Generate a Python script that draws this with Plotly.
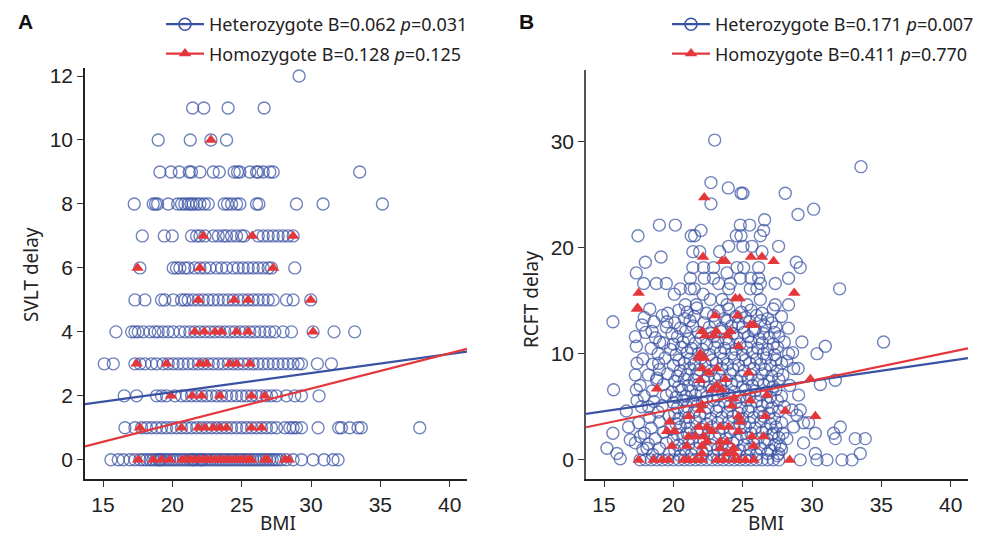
import plotly.graph_objects as go

# ---------------- Panel A data (SVLT delay, integer scores) ----------------
het_a_rows = {
    12: [29.14],
    11: [21.46, 22.27, 24.02, 26.62],
    10: [18.98, 21.29, 22.78, 23.91],
    9: [19.10, 19.90, 20.50, 21.22, 21.38, 21.99, 22.95, 23.38, 24.46, 24.70, 24.87,
        25.59, 26.07, 26.19, 26.55, 27.03, 27.27, 33.51],
    8: [17.25, 18.62, 18.79, 18.94, 19.70, 20.38, 20.66, 20.90, 21.14, 21.34, 21.50,
        21.75, 21.99, 22.30, 22.59, 23.74, 23.98, 24.27, 24.63, 24.87, 26.07, 26.24,
        28.95, 30.87, 35.15],
    7: [17.83, 19.42, 19.99, 21.38, 21.75, 21.99, 22.35, 22.95, 23.31, 23.67, 23.91,
        24.27, 24.63, 24.99, 25.18, 26.19, 26.55, 26.91, 27.27, 27.63, 27.99, 28.35, 28.71],
    6: [17.66, 20.06, 20.30, 20.54, 20.90, 21.14, 21.62, 21.99, 22.35, 22.71, 23.19,
        23.55, 23.91, 24.39, 24.75, 25.11, 25.47, 25.83, 26.19, 26.55, 26.91, 27.15, 28.83],
    5: [17.30, 18.02, 19.22, 19.46, 20.06, 20.66, 20.90, 21.14, 21.50, 21.87, 22.23,
        22.59, 22.95, 23.31, 23.67, 24.03, 24.39, 24.75, 25.11, 25.47, 25.83, 26.19,
        26.55, 26.91, 27.27, 28.23, 28.71, 29.98],
    4: [15.93, 17.06, 17.30, 17.54, 17.90, 18.38, 18.74, 18.98, 19.34, 19.70, 20.06,
        20.54, 20.90, 21.26, 21.62, 21.99, 22.35, 22.71, 23.07, 23.43, 23.79, 24.15,
        24.51, 24.87, 25.23, 25.59, 25.95, 26.31, 26.67, 27.03, 27.39, 27.99, 28.59,
        30.15, 31.66, 33.15],
    3: [15.09, 15.74, 17.30, 17.66, 18.02, 18.50, 18.86, 19.34, 19.70, 20.06, 20.42,
        20.78, 21.14, 21.50, 21.87, 22.23, 22.59, 22.95, 23.31, 23.67, 24.03, 24.39,
        24.75, 25.11, 25.47, 25.83, 26.19, 26.55, 26.91, 27.27, 27.63, 27.99, 28.35,
        28.71, 29.07, 29.31, 30.46, 31.47],
    2: [16.53, 17.42, 18.86, 19.22, 19.58, 20.18, 20.66, 21.02, 21.38, 21.75, 22.11,
        22.47, 22.83, 23.19, 23.55, 23.91, 24.27, 24.63, 24.99, 25.35, 25.71, 26.07,
        26.43, 26.79, 27.15, 27.51, 28.23, 28.83, 29.31, 30.58],
    1: [16.58, 17.30, 17.78, 18.14, 18.50, 18.86, 19.22, 19.58, 19.94, 20.30, 20.66,
        21.02, 21.38, 21.75, 22.11, 22.47, 22.83, 23.19, 23.55, 23.91, 24.27, 24.63,
        24.99, 25.35, 25.71, 26.07, 26.43, 26.79, 27.15, 27.51, 28.11, 28.47, 28.71,
        28.95, 29.31, 30.51, 32.00, 32.19, 32.79, 33.39, 33.63, 37.84],
    0: [15.57, 16.10, 16.46, 16.94, 17.30, 17.66, 17.90, 18.14, 18.40, 18.60, 18.80,
        19.00, 19.10, 19.20, 19.40, 19.60, 19.80, 20.00, 20.20, 20.40, 20.60, 20.80,
        21.00, 21.20, 21.40, 21.50, 21.60, 21.80, 22.00, 22.10, 22.20, 22.40, 22.60,
        22.80, 23.00, 23.20, 23.40, 23.60, 23.80, 24.00, 24.20, 24.40, 24.60, 24.80,
        25.00, 25.20, 25.40, 25.60, 25.80, 26.00, 26.20, 26.40, 26.60, 26.80, 27.00,
        27.20, 27.40, 27.60, 27.87, 28.23, 28.71, 29.31, 30.15, 30.94, 31.59, 31.95],
}

hom_a_rows = {
    10: [22.78],
    7: [22.23, 25.76, 28.71],
    6: [17.49, 21.99, 27.27],
    5: [21.87, 24.46, 25.47, 29.98],
    4: [21.62, 22.30, 23.07, 23.55, 24.63, 25.47, 30.15],
    3: [17.42, 19.58, 21.99, 22.47, 24.15, 24.63, 25.59],
    2: [19.90, 21.43, 22.11, 23.43, 25.71, 26.67],
    1: [17.66, 20.66, 21.87, 22.35, 22.95, 23.43, 23.91, 25.71, 26.43],
    0: [17.54, 18.62, 19.22, 19.82, 20.70, 21.00, 21.30, 21.60, 21.90, 22.20, 22.50,
        22.80, 23.10, 23.40, 23.70, 24.00, 24.30, 24.60, 24.90, 25.20, 25.50, 25.70,
        26.67, 26.86, 28.11, 28.40],
}

# ---------------- Panel B data (RCFT delay) ----------------
het_b_points = [
    (22.98, 30.1), (33.53, 27.6), (22.71, 26.1), (23.96, 25.6), (24.88, 25.1), (25.02, 25.1),
    (28.07, 25.1), (22.71, 24.1), (28.99, 23.1), (30.12, 23.6), (17.45, 21.1), (18.99, 22.1),
    (20.14, 22.1), (21.29, 21.1), (21.53, 21.1), (21.99, 21.6), (24.83, 22.1), (25.50, 22.1),
    (26.58, 22.6), (26.51, 21.6), (24.54, 21.1), (24.88, 21.1), (26.27, 21.1),
    (17.98, 18.6), (19.11, 19.1), (17.33, 17.6), (17.86, 16.6), (18.77, 16.6), (19.49, 16.6),
    (21.41, 19.6), (21.90, 19.6), (23.34, 19.6), (23.99, 20.1), (25.02, 20.1), (25.67, 20.1),
    (26.39, 19.6), (27.59, 20.1), (28.87, 18.6), (29.15, 18.1), (28.31, 17.1), (31.99, 16.1),
    (21.41, 18.1), (22.18, 18.1), (22.90, 18.1), (22.23, 17.1), (22.90, 17.1), (23.87, 17.6),
    (24.59, 18.1), (25.07, 18.1), (26.15, 18.1), (25.60, 17.1), (26.15, 17.1), (26.27, 16.6),
    (24.83, 17.1), (24.11, 16.6), (23.27, 16.6), (21.22, 17.1), (20.50, 16.1), (20.07, 15.6),
    (21.22, 16.1), (21.51, 16.1), (22.14, 15.6), (22.66, 15.1), (23.51, 15.1), (23.99, 16.1),
    (25.55, 16.1), (26.03, 16.1), (26.27, 15.1), (27.35, 16.6), (27.35, 14.6), (28.31, 14.6),
    (20.86, 14.6), (21.65, 14.6), (23.87, 14.6), (25.31, 14.6),
    (15.64, 13.0), (15.69, 6.6), (15.21, 1.1), (15.93, 0.6), (16.17, 0.1), (15.64, 2.5),
    (16.77, 3.1), (16.61, 4.6), (17.33, 6.6), (17.38, 5.6), (17.38, 9.1), (17.26, 8.0),
    (17.33, 10.7), (17.26, 11.6), (17.74, 12.7), (18.46, 12.1), (19.01, 11.1), (19.54, 13.0),
    (18.94, 9.1), (18.82, 7.7), (18.22, 5.0), (17.62, 2.2), (17.26, 1.6), (18.10, 1.1),
    (16.89, 1.9), (29.27, 11.1), (30.36, 10.0), (30.96, 10.7), (35.16, 11.1), (33.12, 2.0),
    (33.84, 2.0), (33.48, 0.6), (31.56, 2.5), (32.04, 3.1), (31.68, 2.0), (30.60, 7.1),
    (31.68, 7.5), (28.31, 10.0), (28.19, 9.3), (28.67, 8.6), (29.03, 6.1), (28.55, 4.7),
    (29.15, 4.7), (28.91, 4.2), (28.67, 3.1), (28.19, 2.0), (29.39, 1.6), (30.24, 2.5),
    (30.24, 0.6), (30.36, 0.0), (31.08, 0.0), (32.16, 0.0), (32.88, 0.0), (29.15, 0.0),
    (29.39, 3.5), (29.75, 3.5), (27.71, 1.3), (27.59, 0.6), (27.23, 2.5),
    (18.3, 14.2), (19.6, 13.8), (20.4, 14.1), (21.0, 13.9), (21.7, 14.3), (22.4, 13.8),
    (23.3, 14.0), (24.0, 14.2), (24.9, 13.9), (25.6, 14.1), (26.4, 13.8), (27.2, 14.2),
    (17.9, 13.4), (19.2, 13.6), (20.8, 13.3), (21.5, 13.5), (22.9, 13.6), (23.7, 13.3),
    (24.5, 13.5), (25.2, 13.4), (26.0, 13.6), (26.8, 13.3), (27.8, 13.5),
    (18.6, 13.0), (20.1, 12.9), (21.2, 13.1), (22.2, 12.9), (23.0, 13.0), (23.9, 13.1),
    (24.7, 12.8), (25.5, 13.0), (26.3, 13.1), (27.1, 12.9),
    (19.5, 12.5), (20.5, 12.4), (21.4, 12.6), (22.6, 12.5), (23.5, 12.4), (24.2, 12.6),
    (25.0, 12.5), (25.9, 12.3), (26.6, 12.6), (27.4, 12.5), (28.3, 12.4),
    (18.0, 12.0), (19.9, 11.9), (20.9, 12.1), (21.8, 12.0), (22.7, 11.9), (23.4, 12.1),
    (24.3, 11.9), (25.1, 12.0), (25.8, 12.1), (26.5, 11.9), (27.3, 12.0),
    (18.7, 11.5), (20.3, 11.6), (21.1, 11.4), (22.0, 11.5), (22.9, 11.6), (23.8, 11.4),
    (24.6, 11.5), (25.4, 11.6), (26.2, 11.4), (26.9, 11.5), (27.6, 11.6),
    (19.3, 11.0), (20.0, 10.9), (20.7, 11.1), (21.6, 11.0), (22.4, 10.9), (23.2, 11.1),
    (24.0, 11.0), (24.8, 10.9), (25.6, 11.1), (26.4, 11.0), (27.2, 10.9), (28.0, 11.1),
    (18.4, 10.5), (19.8, 10.4), (20.6, 10.6), (21.3, 10.5), (22.1, 10.4), (23.0, 10.6),
    (23.7, 10.5), (24.5, 10.4), (25.3, 10.6), (26.1, 10.5), (26.8, 10.4), (27.5, 10.6),
    (18.9, 10.0), (20.2, 9.9), (21.0, 10.1), (21.8, 10.0), (22.6, 9.9), (23.4, 10.1),
    (24.2, 10.0), (25.0, 9.9), (25.7, 10.1), (26.5, 10.0), (27.3, 9.9), (28.6, 10.1),
    (17.8, 9.5), (19.4, 9.6), (20.4, 9.4), (21.2, 9.5), (22.0, 9.6), (22.8, 9.4),
    (23.6, 9.5), (24.4, 9.6), (25.2, 9.4), (26.0, 9.5), (26.7, 9.6), (27.4, 9.4),
    (18.5, 9.0), (20.0, 8.9), (20.8, 9.1), (21.5, 9.0), (22.3, 8.9), (23.1, 9.1),
    (23.9, 9.0), (24.7, 8.9), (25.5, 9.1), (26.3, 9.0), (27.0, 8.9), (27.8, 9.1),
    (19.0, 8.5), (20.5, 8.4), (21.2, 8.6), (21.9, 8.5), (22.7, 8.4), (23.5, 8.6),
    (24.3, 8.5), (25.1, 8.4), (25.8, 8.6), (26.6, 8.5), (27.5, 8.4), (29.0, 8.6),
    (18.2, 8.0), (19.6, 8.1), (20.3, 7.9), (21.0, 8.0), (21.7, 8.1), (22.5, 7.9),
    (23.3, 8.0), (24.1, 8.1), (24.9, 7.9), (25.6, 8.0), (26.4, 8.1), (27.1, 7.9), (27.9, 8.0),
    (18.8, 7.5), (20.1, 7.4), (20.8, 7.6), (21.5, 7.5), (22.2, 7.4), (23.0, 7.6),
    (23.8, 7.5), (24.6, 7.4), (25.4, 7.6), (26.1, 7.5), (26.9, 7.4), (27.6, 7.6),
    (17.6, 7.0), (19.3, 7.1), (20.4, 6.9), (21.1, 7.0), (21.8, 7.1), (22.6, 6.9),
    (23.4, 7.0), (24.2, 7.1), (25.0, 6.9), (25.7, 7.0), (26.5, 7.1), (27.2, 6.9), (28.4, 7.0),
    (18.5, 6.5), (19.9, 6.4), (20.6, 6.6), (21.3, 6.5), (22.0, 6.4), (22.8, 6.6),
    (23.6, 6.5), (24.4, 6.4), (25.2, 6.6), (25.9, 6.5), (26.7, 6.4), (27.4, 6.6),
    (17.9, 6.0), (19.5, 6.1), (20.2, 5.9), (20.9, 6.0), (21.6, 6.1), (22.4, 5.9),
    (23.2, 6.0), (24.0, 6.1), (24.8, 5.9), (25.5, 6.0), (26.3, 6.1), (27.0, 5.9), (27.8, 6.0),
    (18.6, 5.5), (20.0, 5.4), (20.7, 5.6), (21.4, 5.5), (22.1, 5.4), (22.9, 5.6),
    (23.7, 5.5), (24.5, 5.4), (25.3, 5.6), (26.0, 5.5), (26.8, 5.4), (27.5, 5.6),
    (17.7, 5.0), (19.2, 5.1), (20.3, 4.9), (21.0, 5.0), (21.7, 5.1), (22.5, 4.9),
    (23.3, 5.0), (24.1, 5.1), (24.9, 4.9), (25.6, 5.0), (26.4, 5.1), (27.1, 4.9), (28.0, 5.0),
    (18.9, 4.5), (20.1, 4.4), (20.8, 4.6), (21.5, 4.5), (22.3, 4.4), (23.1, 4.6),
    (23.9, 4.5), (24.7, 4.4), (25.4, 4.6), (26.2, 4.5), (26.9, 4.4), (27.6, 4.6),
    (18.3, 4.0), (19.7, 4.1), (20.4, 3.9), (21.1, 4.0), (21.9, 4.1), (22.7, 3.9),
    (23.5, 4.0), (24.3, 4.1), (25.0, 3.9), (25.8, 4.0), (26.5, 4.1), (27.3, 3.9),
    (17.5, 3.5), (19.0, 3.6), (20.2, 3.4), (20.9, 3.5), (21.6, 3.6), (22.4, 3.4),
    (23.2, 3.5), (24.0, 3.6), (24.8, 3.4), (25.5, 3.5), (26.3, 3.6), (27.0, 3.4), (27.8, 3.5),
    (18.4, 3.0), (19.8, 2.9), (20.5, 3.1), (21.2, 3.0), (22.0, 2.9), (22.8, 3.1),
    (23.6, 3.0), (24.4, 2.9), (25.2, 3.1), (25.9, 3.0), (26.7, 2.9), (27.4, 3.1),
    (17.9, 2.5), (19.3, 2.6), (20.3, 2.4), (21.0, 2.5), (21.7, 2.6), (22.5, 2.4),
    (23.3, 2.5), (24.1, 2.6), (24.9, 2.4), (25.6, 2.5), (26.4, 2.6), (27.1, 2.4), (27.9, 2.5),
    (18.7, 2.0), (20.0, 1.9), (20.7, 2.1), (21.4, 2.0), (22.2, 1.9), (23.0, 2.1),
    (23.8, 2.0), (24.6, 1.9), (25.3, 2.1), (26.1, 2.0), (26.8, 1.9), (27.6, 2.1),
    (18.2, 1.5), (19.5, 1.6), (20.4, 1.4), (21.1, 1.5), (21.9, 1.6), (22.7, 1.4),
    (23.5, 1.5), (24.3, 1.6), (25.1, 1.4), (25.8, 1.5), (26.6, 1.6), (27.3, 1.4),
    (17.8, 1.0), (19.0, 1.1), (20.1, 0.9), (20.8, 1.0), (21.6, 1.1), (22.4, 0.9),
    (23.2, 1.0), (24.0, 1.1), (24.8, 0.9), (25.5, 1.0), (26.3, 1.1), (27.0, 0.9), (27.8, 1.0),
    (18.5, 0.5), (19.7, 0.6), (20.5, 0.4), (21.3, 0.5), (22.1, 0.6), (22.9, 0.4),
    (23.7, 0.5), (24.5, 0.6), (25.3, 0.4), (26.0, 0.5), (26.8, 0.6), (27.5, 0.4),
    (17.6, 0.0), (18.0, 0.0), (18.4, 0.0), (18.8, 0.0), (19.2, 0.0), (19.6, 0.0),
    (20.0, 0.0), (20.4, 0.0), (20.8, 0.0), (21.2, 0.0), (21.6, 0.0), (22.0, 0.0),
    (22.4, 0.0), (22.8, 0.0), (23.2, 0.0), (23.6, 0.0), (24.0, 0.0), (24.4, 0.0),
    (24.8, 0.0), (25.2, 0.0), (25.6, 0.0), (26.0, 0.0), (26.4, 0.0), (26.8, 0.0),
    (27.2, 0.0), (27.6, 0.0),
]

hom_b_points = [
    (22.23, 24.7), (22.14, 19.1), (23.51, 18.7), (23.75, 18.7), (25.60, 19.1), (26.39, 19.1),
    (27.23, 18.7), (17.50, 15.7), (28.72, 15.7), (24.47, 15.2), (24.78, 15.2), (17.42, 14.3),
    (17.38, 14.2), (23.02, 13.6), (24.64, 13.6), (25.55, 12.7), (25.79, 12.7), (22.06, 12.1),
    (23.10, 12.1), (24.11, 12.1), (22.30, 11.7), (22.90, 11.7), (23.87, 11.7), (24.71, 10.7),
    (21.94, 10.0), (21.82, 9.6), (22.23, 9.6), (22.06, 8.6), (23.14, 8.6), (25.43, 8.2),
    (22.54, 8.2), (21.94, 7.5), (23.75, 7.6), (29.88, 7.6), (18.82, 6.7), (23.14, 7.0),
    (22.78, 6.6), (23.50, 6.6), (26.75, 6.1), (24.35, 5.8), (25.55, 5.6), (22.06, 5.2),
    (21.94, 4.7), (24.23, 5.1), (28.07, 4.6), (30.24, 4.1), (24.71, 4.1), (24.83, 3.6),
    (26.63, 4.1), (21.10, 4.1), (19.73, 3.6), (21.82, 3.1), (22.42, 3.1), (23.38, 3.1),
    (23.99, 3.1), (19.54, 2.7), (20.07, 2.7), (22.78, 2.7), (24.71, 2.7), (21.10, 2.2),
    (21.58, 2.2), (22.18, 2.2), (23.38, 1.7), (23.87, 1.7), (25.67, 2.2), (26.51, 2.2),
    (22.42, 1.7), (19.90, 1.3), (20.98, 1.3), (22.06, 1.3), (23.38, 1.1), (24.35, 1.1),
    (25.79, 1.3), (22.06, 0.6), (23.87, 0.6), (24.35, 0.6),
    (17.50, 0.0), (18.58, 0.0), (19.18, 0.0), (19.66, 0.0), (20.74, 0.0), (21.10, 0.0),
    (21.58, 0.0), (22.06, 0.0), (23.14, 0.0), (23.63, 0.0), (24.35, 0.0), (24.71, 0.0),
    (25.19, 0.0), (25.79, 0.0), (28.39, 0.0),
]

# regression line end points (BMI, predicted score)
line_bmi = [13.7, 41.25]
het_a_fit = [1.74, 3.38]
hom_a_fit = [0.42, 3.47]
het_b_fit = [4.33, 9.57]
hom_b_fit = [3.07, 10.50]

legend_a = ["Heterozygote B=0.062 <i>p</i>=0.031", "Homozygote B=0.128 <i>p</i>=0.125"]
legend_b = ["Heterozygote B=0.171 <i>p</i>=0.007", "Homozygote B=0.411 <i>p</i>=0.770"]
x_title = "BMI"
y_title_a = "SVLT delay"
y_title_b = "RCFT delay"

BLUE = "#3a52a3"
BLUE_M = "rgba(58,82,163,0.72)"
RED = "#e3373c"

W, H = 982, 540
ML, MR, MT, MB = 85, 14, 68, 61
PW, PH = W - ML - MR, H - MT - MB


def px_x(px):
    return (px - ML) / PW


def px_y(py):
    return (H - MB - py) / PH


def rows_to_xy(rows):
    xs, ys = [], []
    for score, bmis in rows.items():
        for b in bmis:
            xs.append(b)
            ys.append(score)
    return xs, ys


fig = go.Figure()

circle = dict(symbol="circle-open", size=12, color=BLUE_M, line=dict(width=1.4, color=BLUE_M))
tri = dict(symbol="triangle-up", size=11, color=RED, line=dict(width=0))

# Panel A
hx, hy = rows_to_xy(het_a_rows)
fig.add_trace(go.Scatter(x=hx, y=hy, mode="markers", marker=circle, showlegend=False,
                         xaxis="x", yaxis="y"))
mx, my = rows_to_xy(hom_a_rows)
fig.add_trace(go.Scatter(x=mx, y=my, mode="markers", marker=tri, showlegend=False,
                         xaxis="x", yaxis="y"))
fig.add_trace(go.Scatter(x=line_bmi, y=het_a_fit, mode="lines", line=dict(color=BLUE, width=2.2),
                         showlegend=False, xaxis="x", yaxis="y"))
fig.add_trace(go.Scatter(x=line_bmi, y=hom_a_fit, mode="lines", line=dict(color=RED, width=2.2),
                         showlegend=False, xaxis="x", yaxis="y"))

# Panel B
fig.add_trace(go.Scatter(x=[p[0] for p in het_b_points], y=[p[1] for p in het_b_points],
                         mode="markers", marker=circle, showlegend=False, xaxis="x2", yaxis="y2"))
fig.add_trace(go.Scatter(x=[p[0] for p in hom_b_points], y=[p[1] for p in hom_b_points],
                         mode="markers", marker=tri, showlegend=False, xaxis="x2", yaxis="y2"))
fig.add_trace(go.Scatter(x=line_bmi, y=het_b_fit, mode="lines", line=dict(color=BLUE, width=2.2),
                         showlegend=False, xaxis="x2", yaxis="y2"))
fig.add_trace(go.Scatter(x=line_bmi, y=hom_b_fit, mode="lines", line=dict(color=RED, width=2.2),
                         showlegend=False, xaxis="x2", yaxis="y2"))

# legend entries
leg_circle = dict(symbol="circle-open", size=12, color=BLUE, line=dict(width=1.5, color=BLUE))
leg_tri = dict(symbol="triangle-up", size=11, color=RED)
for lg, names in (("legend", legend_a), ("legend2", legend_b)):
    ax = "x" if lg == "legend" else "x2"
    ay = "y" if lg == "legend" else "y2"
    fig.add_trace(go.Scatter(x=[None], y=[None], mode="lines+markers", name=names[0],
                             line=dict(color=BLUE, width=2.2), marker=leg_circle,
                             legend=lg, legendgroup=lg + "a", xaxis=ax, yaxis=ay))
    fig.add_trace(go.Scatter(x=[None], y=[None], mode="lines+markers", name=names[1],
                             line=dict(color=RED, width=2.2), marker=leg_tri,
                             legend=lg, legendgroup=lg + "b", xaxis=ax, yaxis=ay))

TICKF = dict(family="Liberation Sans, Arial, sans-serif", size=21, color="#222")
TITLEF = dict(family="Noto Sans, sans-serif", size=19, color="#222")
LEGF = dict(family="Noto Sans, sans-serif", size=18, color="#222")
LETF = dict(family="Liberation Sans, Arial, sans-serif", size=21, color="#111")

axis_common = dict(showgrid=False, zeroline=False, showline=True, linecolor="#222", linewidth=1.5,
                   ticks="outside", ticklen=6, tickwidth=1.3, tickcolor="#333", tickfont=TICKF,
                   mirror=False, automargin=False, tickangle=0)

fig.update_layout(
    width=W, height=H,
    margin=dict(l=ML, r=MR, t=MT, b=MB, autoexpand=False),
    plot_bgcolor="white", paper_bgcolor="white",
    xaxis=dict(axis_common, domain=[0, px_x(467)], range=[13.7, 41.25], tickvals=[15, 20, 25, 30, 35, 40],
               anchor="y"),
    yaxis=dict(axis_common, domain=[0, 1], range=[-0.6, 12.25], tickvals=[0, 2, 4, 6, 8, 10, 12],
               anchor="x"),
    xaxis2=dict(axis_common, domain=[px_x(586), 1.0], range=[13.7, 41.25], tickvals=[15, 20, 25, 30, 35, 40],
                anchor="y2"),
    yaxis2=dict(axis_common, domain=[0, px_y(70)], range=[-1.8, 36.7], tickvals=[0, 10, 20, 30],
                linecolor="#555", anchor="x2"),
    legend=dict(x=161 / W, y=1 - 6 / H, xref="container", yref="container", xanchor="left", yanchor="top",
                font=LEGF, bgcolor="rgba(0,0,0,0)", tracegroupgap=3, itemclick=False, itemwidth=38),
    legend2=dict(x=667 / W, y=1 - 6 / H, xref="container", yref="container", xanchor="left", yanchor="top",
                 font=LEGF, bgcolor="rgba(0,0,0,0)", tracegroupgap=3, itemclick=False, itemwidth=38),
    annotations=[
        dict(text="<b>A</b>", x=px_x(25), y=px_y(22), xref="paper", yref="paper", showarrow=False,
             font=LETF, xanchor="center", yanchor="middle"),
        dict(text="<b>B</b>", x=px_x(526), y=px_y(22), xref="paper", yref="paper", showarrow=False,
             font=LETF, xanchor="center", yanchor="middle"),
        dict(text=y_title_a, x=px_x(31), y=px_y(275), xref="paper", yref="paper", showarrow=False,
             font=TITLEF, textangle=-90, xanchor="center", yanchor="middle"),
        dict(text=y_title_b, x=px_x(531), y=px_y(300), xref="paper", yref="paper", showarrow=False,
             font=TITLEF, textangle=-90, xanchor="center", yanchor="middle"),
        dict(text=x_title, x=px_x(278), y=px_y(523), xref="paper", yref="paper", showarrow=False,
             font=TITLEF, xanchor="center", yanchor="middle"),
        dict(text=x_title, x=px_x(766), y=px_y(523), xref="paper", yref="paper", showarrow=False,
             font=TITLEF, xanchor="center", yanchor="middle"),
    ],
)

fig.write_html("out.html", config={"displayModeBar": False},
               post_script="document.body.style.margin='0px';")
